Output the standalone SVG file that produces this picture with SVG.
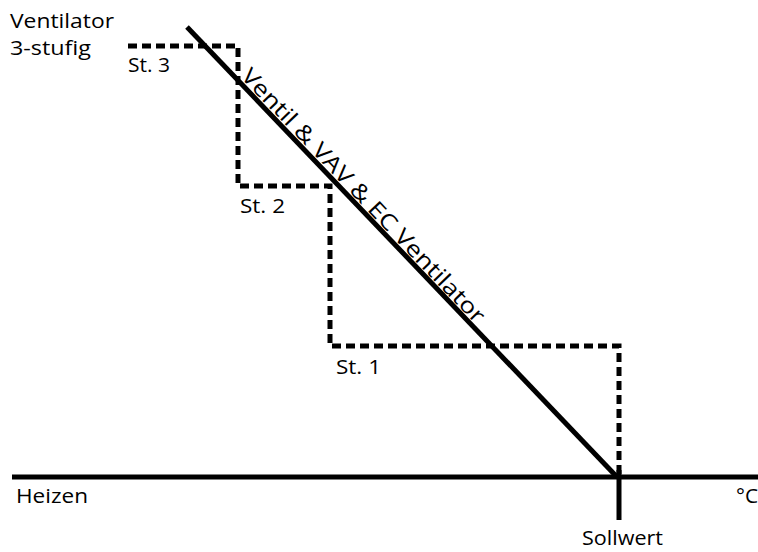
<svg xmlns="http://www.w3.org/2000/svg" width="758" height="552" viewBox="0 0 758 552">
<style>
.t{font-family:"Open Sans","Liberation Sans",sans-serif;fill:#000;font-size:20px}
.dash{fill:none;stroke:#000;stroke-width:5;stroke-dasharray:9 5}
.solid{fill:none;stroke:#000;stroke-width:5}
</style>
<rect width="758" height="552" fill="#fff"/>
<g id="connectors">
<line class="solid" x1="12" y1="477" x2="758" y2="477" stroke-width="6"/>
<line class="solid" x1="619" y1="470" x2="619" y2="520" stroke-width="5"/>
<line class="solid" x1="187" y1="27" x2="617" y2="477"/>
<polyline class="dash" points="128,46 238,46 238,186 330,186 330,346 619,346 619,474"/>
</g>
<g id="ventilator-label"><text class="t" x="10" y="28" textLength="104" lengthAdjust="spacingAndGlyphs">Ventilator</text><text class="t" x="10" y="55" textLength="81" lengthAdjust="spacingAndGlyphs">3-stufig</text></g>
<g id="st3"><text class="t" x="128" y="72" textLength="42" lengthAdjust="spacingAndGlyphs">St. 3</text></g>
<g id="st2"><text class="t" x="240" y="213" textLength="45" lengthAdjust="spacingAndGlyphs">St. 2</text></g>
<g id="st1"><text class="t" x="336" y="374" textLength="45" lengthAdjust="spacingAndGlyphs">St. 1</text></g>
<g id="line-label"><text class="t" style="font-size:22px" transform="translate(240,77) rotate(46.4)" textLength="342" lengthAdjust="spacingAndGlyphs">Ventil &amp; VAV &amp; EC Ventilator</text></g>
<g id="heizen"><text class="t" x="16" y="503" textLength="72" lengthAdjust="spacingAndGlyphs">Heizen</text></g>
<g id="unit"><text class="t" x="736" y="503" textLength="22" lengthAdjust="spacingAndGlyphs">°C</text></g>
<g id="sollwert"><text class="t" x="582" y="545" textLength="81" lengthAdjust="spacingAndGlyphs">Sollwert</text></g>
</svg>
